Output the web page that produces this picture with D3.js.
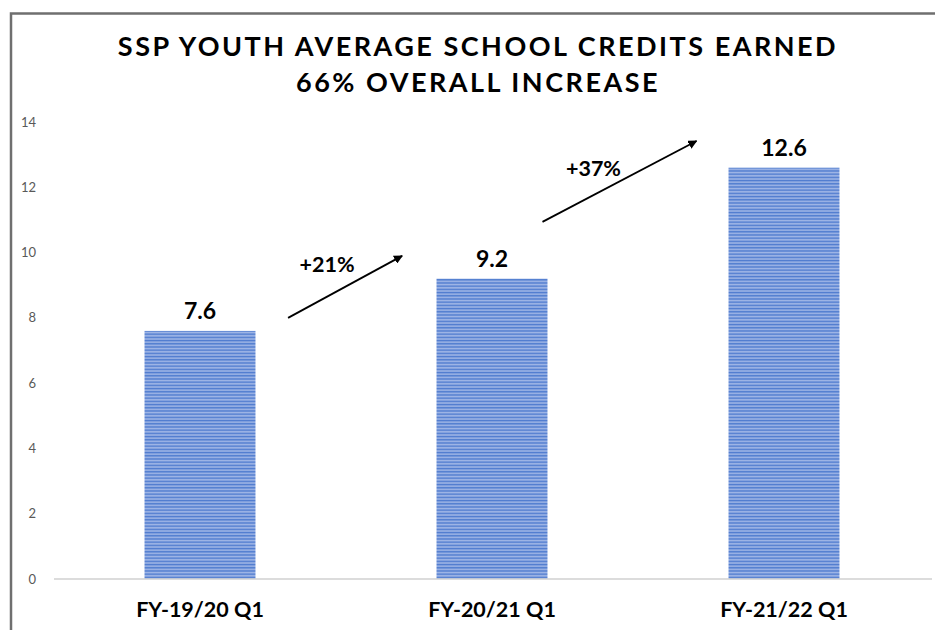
<!DOCTYPE html>
<html>
<head>
<meta charset="utf-8">
<script src="https://cdn.jsdelivr.net/npm/d3@7"></script>
<style>
  body { margin: 0; background: #fff; }
  svg { display: block; font-family: Lato, "Open Sans", sans-serif; }
</style>
</head>
<body>
<div id="chart"></div>
<script>
const titleLines = ['SSP YOUTH AVERAGE SCHOOL CREDITS EARNED', '66% OVERALL INCREASE'];
const categories = ['FY-19/20 Q1', 'FY-20/21 Q1', 'FY-21/22 Q1'];
const credits = [7.6, 9.2, 12.6];
const changes = ['+21%', '+37%'];
const yTicks = [0, 2, 4, 6, 8, 10, 12, 14];

const width = 935;
const height = 630;
const margin = {top: 122, right: 5, bottom: 51, left: 54};

const svg = d3.select('#chart')
    .append('svg')
        .attr('width', width)
        .attr('height', height);

// striped fill like the original
const defs = svg.append('defs');
const pat = defs.append('pattern')
    .attr('id', 'stripes')
    .attr('patternUnits', 'userSpaceOnUse')
    .attr('width', 8)
    .attr('height', 3.2);
pat.append('rect').attr('width', 8).attr('height', 3.2).attr('fill', '#9fb6e6');
pat.append('rect').attr('y', 0.6).attr('width', 8).attr('height', 1.5).attr('fill', '#4f7bcf');

// frame
svg.append('path')
    .attr('d', `M11,${height} L11,13.5 L${width},13.5`)
    .attr('fill', 'none')
    .attr('stroke', '#6f6f6f')
    .attr('stroke-width', 2.5);

const x = d3.scaleBand()
    .domain(categories)
    .range([margin.left, width - margin.right])
    .paddingInner(0.62)
    .paddingOuter(0.31);
const y = d3.scaleLinear()
    .domain([0, 14])
    .range([height - margin.bottom, margin.top]);

svg.selectAll('.title')
    .data(titleLines)
    .join('text')
        .attr('class', 'title')
        .attr('x', 478)
        .attr('y', (d, i) => 56 + i * 36)
        .attr('text-anchor', 'middle')
        .style('font-size', '27px')
        .style('font-weight', 'bold')
        .style('letter-spacing', '2.5px')
        .style('fill', '#000')
        .text(d => d);

// y labels (no axis line)
svg.append('g')
    .selectAll('text')
    .data(yTicks)
    .join('text')
        .attr('x', 36)
        .attr('y', d => y(d))
        .attr('dy', '0.35em')
        .attr('text-anchor', 'end')
        .style('font-size', '13px')
        .style('fill', '#595959')
        .text(d => d);

svg.append('g')
    .selectAll('rect')
    .data(credits)
    .join('rect')
        .attr('x', (d, i) => x(categories[i]))
        .attr('y', d => y(d))
        .attr('width', x.bandwidth())
        .attr('height', d => y(0) - y(d))
        .attr('fill', 'url(#stripes)');

// baseline
svg.append('line')
    .attr('x1', margin.left)
    .attr('x2', width - 3)
    .attr('y1', y(0))
    .attr('y2', y(0))
    .attr('stroke', '#d0d0d0')
    .attr('stroke-width', 1.5);

svg.append('g')
    .selectAll('text')
    .data(credits)
    .join('text')
        .attr('x', (d, i) => x(categories[i]) + x.bandwidth() / 2)
        .attr('y', d => y(d) - 12)
        .attr('text-anchor', 'middle')
        .style('font-size', '23px')
        .style('font-weight', 'bold')
        .text(d => d);

svg.append('g')
    .selectAll('text')
    .data(categories)
    .join('text')
        .attr('x', d => x(d) + x.bandwidth() / 2)
        .attr('y', height - 13)
        .attr('text-anchor', 'middle')
        .style('font-size', '21.5px')
        .style('font-weight', 'bold')
        .text(d => d);

// growth arrows between bars
defs.append('marker')
    .attr('id', 'head')
    .attr('viewBox', '0 0 10 10')
    .attr('refX', 9)
    .attr('refY', 5)
    .attr('markerWidth', 5)
    .attr('markerHeight', 5)
    .attr('orient', 'auto')
    .append('path')
        .attr('d', 'M0,0 L10,5 L0,10 Z')
        .attr('fill', '#000');

const arrows = changes.map((c, i) => {
    const a = categories[i], b = categories[i + 1];
    const gapL = x(a) + x.bandwidth();
    const gapR = x(b);
    const gap = gapR - gapL;
    const start = i === 0 ? gapL + gap * 0.18 : gapL - 5;
    const end = i === 0 ? gapR - gap * 0.19 : gapR - 32;
    const v0 = i === 0 ? credits[i] + 0.4 : credits[i + 1] - 1.66;
    const v1 = i === 0 ? credits[i + 1] + 0.7 : credits[i + 1] + 0.82;
    return {label: c, x1: start, x2: end, y1: y(v0), y2: y(v1)};
});

svg.append('g')
    .selectAll('line')
    .data(arrows)
    .join('line')
        .attr('x1', d => d.x1)
        .attr('y1', d => d.y1)
        .attr('x2', d => d.x2)
        .attr('y2', d => d.y2)
        .attr('stroke', '#000')
        .attr('stroke-width', 1.8)
        .attr('marker-end', 'url(#head)');

svg.append('g')
    .selectAll('text')
    .data(arrows)
    .join('text')
        .attr('x', (d, i) => i === 0 ? d.x1 + 39 : d.x1 + 51)
        .attr('y', (d, i) => i === 0 ? d.y2 + 16 : d.y2 + 35)
        .attr('text-anchor', 'middle')
        .style('font-size', '21.5px')
        .style('font-weight', 'bold')
        .text(d => d.label);
</script>
</body>
</html>
